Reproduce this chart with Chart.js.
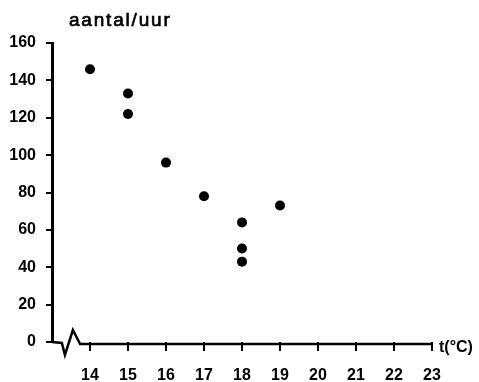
<!DOCTYPE html>
<html>
<head>
<meta charset="utf-8">
<script src="https://cdn.jsdelivr.net/npm/chart.js@4/dist/chart.umd.min.js"></script>
<style>
  html, body { margin: 0; padding: 0; background: #fff; }
  #chart { display: block; }
</style>
</head>
<body>
<canvas id="chart" width="479" height="382"></canvas>
<script>
// temperature (°C) and counts per hour
const temps = [14, 15, 15, 16, 17, 18, 18, 18, 19];
const counts = [146, 133, 122, 96, 78, 64, 50, 43, 73];

const yTicks = [0, 20, 40, 60, 80, 100, 120, 140, 160];
const xTicks = [14, 15, 16, 17, 18, 19, 20, 21, 22, 23];

const yTitle = 'aantal/uur';
const xTitle = 't(°C)';

const FONT = '"Liberation Sans", Arial, Helvetica, sans-serif';

// x axis line with the broken-axis zigzag near the origin, plus the axis captions
const axisDecor = {
  id: 'axisDecor',
  afterDraw(chart) {
    const { ctx, scales } = chart;
    const x = scales.x;
    const y = scales.y;
    const y0 = y.getPixelForValue(0);

    ctx.save();
    ctx.strokeStyle = '#000';
    ctx.lineWidth = 2.5;
    ctx.lineJoin = 'miter';
    ctx.beginPath();
    ctx.moveTo(x.getPixelForValue(13), y0);
    ctx.lineTo(x.getPixelForValue(13.26), y0 + 1);
    ctx.lineTo(x.getPixelForValue(13.34), y0 + 13);
    ctx.lineTo(x.getPixelForValue(13.55), y0 - 12);
    ctx.lineTo(x.getPixelForValue(13.74), y0 + 2);
    ctx.lineTo(x.getPixelForValue(23), y0 + 2);
    ctx.stroke();

    // y caption, slightly heavier than the regular face
    ctx.fillStyle = '#000';
    ctx.letterSpacing = '1.8px';
    ctx.font = '19px ' + FONT;
    ctx.textAlign = 'left';
    ctx.textBaseline = 'alphabetic';
    ctx.lineWidth = 0.7;
    ctx.fillText(yTitle, 69, 26);
    ctx.strokeText(yTitle, 69, 26);

    ctx.letterSpacing = '0px';
    ctx.font = 'bold 16px ' + FONT;
    ctx.textBaseline = 'middle';
    ctx.fillText(xTitle, 439, y0 + 6);
    ctx.restore();
  }
};

new Chart(document.getElementById('chart'), {
  type: 'scatter',
  data: {
    datasets: [{
      data: temps.map((t, i) => ({ x: t, y: counts[i] })),
      backgroundColor: '#000',
      borderWidth: 0,
      pointRadius: 5
    }]
  },
  options: {
    responsive: false,
    animation: false,
    layout: { padding: { top: 43, right: 47, left: 0, bottom: 0 } },
    plugins: {
      legend: { display: false },
      tooltip: { enabled: false }
    },
    scales: {
      x: {
        type: 'linear',
        min: 13,
        max: 23,
        afterBuildTicks: (scale) => {
          scale.ticks = xTicks.map(v => ({ value: v }));
        },
        afterFit: (scale) => { scale.height = 40; },
        border: { display: false },
        grid: {
          drawOnChartArea: false,
          drawTicks: true,
          tickLength: 9,
          lineWidth: 2,
          color: '#000'
        },
        ticks: {
          color: '#000',
          padding: 15,
          maxRotation: 0,
          font: { family: FONT, size: 16, weight: 'bold' }
        }
      },
      y: {
        min: 0,
        max: 160,
        afterBuildTicks: (scale) => {
          scale.ticks = yTicks.map(v => ({ value: v }));
        },
        afterFit: (scale) => { scale.width = 52; },
        border: { display: true, color: '#000', width: 3 },
        grid: {
          drawOnChartArea: false,
          drawTicks: true,
          tickLength: 6,
          lineWidth: 2,
          color: '#000'
        },
        ticks: {
          color: '#000',
          padding: 10,
          font: { family: FONT, size: 16, weight: 'bold' }
        }
      }
    }
  },
  plugins: [axisDecor]
});
</script>
</body>
</html>
